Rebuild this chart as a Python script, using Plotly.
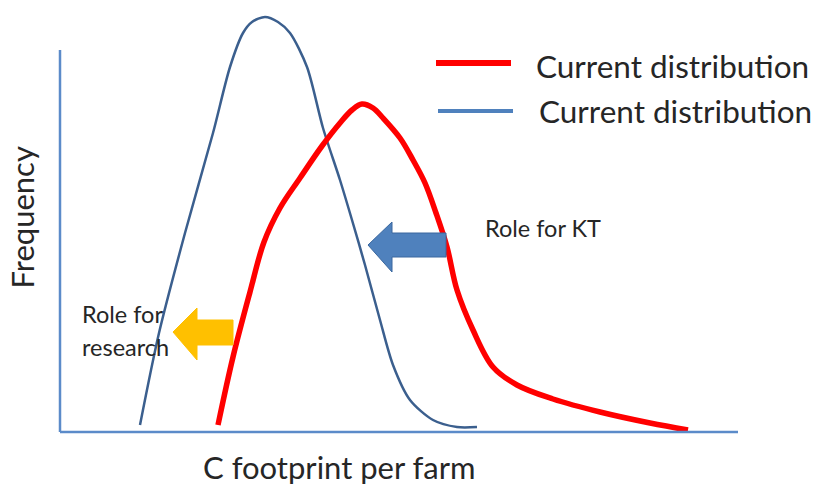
import plotly.graph_objects as go

# Data (x: carbon footprint units, y: frequency units)
blue_x = [80, 99, 125, 153, 170, 183, 192, 205, 218, 230, 247, 263, 280, 292, 305, 320, 333, 350, 373, 397, 417]
blue_y = [7, 99, 199, 299, 365, 399, 410, 415, 410, 399, 365, 304, 252, 212, 167, 112, 67, 32, 12, 5, 5]

red_x = [158, 173, 190, 204, 220, 240, 262, 280, 292, 302, 313, 323, 340, 353, 365, 376, 387, 397, 413, 433, 457, 493, 540, 590, 628]
red_y = [7, 75, 140, 190, 224, 254, 286, 309, 322, 328, 324, 314, 294, 272, 249, 219, 185, 142, 102, 65, 47, 33, 20, 9, 2]

legend_labels = ["Current distribution", "Current distribution"]
x_title = "C footprint per farm"
y_title = "Frequency"
kt_label = "Role for KT"
research_labels = ["Role for", "research"]

FONT = "Lato"
TXT = "#262626"

fig = go.Figure()
fig.add_trace(go.Scatter(x=blue_x, y=blue_y, mode="lines", line=dict(color="#3B5F8E", width=2.5, shape="spline", smoothing=0.8), showlegend=False, hoverinfo="skip"))
fig.add_trace(go.Scatter(x=red_x, y=red_y, mode="lines", line=dict(color="#FF0000", width=5.5, shape="spline", smoothing=1.0), showlegend=False, hoverinfo="skip"))

shapes = [
    # axis lines
    dict(type="line", x0=0, y0=0, x1=0, y1=382, line=dict(color="#5B8BC9", width=2.5)),
    dict(type="line", x0=0, y0=0, x1=678, y1=0, line=dict(color="#5B8BC9", width=2.5)),
    # legend lines
    dict(type="line", x0=376, y0=369, x1=451, y1=369, line=dict(color="#FF0000", width=6)),
    dict(type="line", x0=378, y0=321, x1=453, y1=321, line=dict(color="#4F81BD", width=4)),
    # KT arrow (blue)
    dict(type="path", path="M 308 187 L 332 210 L 332 199 L 386 199 L 386 175 L 332 175 L 332 160 Z",
         fillcolor="#4F81BD", line=dict(color="#3A679E", width=1)),
    # research arrow (yellow)
    dict(type="path", path="M 113 100 L 137 124 L 137 112 L 173 112 L 173 87 L 137 87 L 137 72 Z",
         fillcolor="#FFC000", line=dict(color="#FFC000", width=1)),
]

annotations = [
    dict(x=474, y=366, xref="x", yref="y", text=legend_labels[0], showarrow=False, xanchor="left", yanchor="middle",
         font=dict(family=FONT, size=31.5, color=TXT)),
    dict(x=477, y=321, xref="x", yref="y", text=legend_labels[1], showarrow=False, xanchor="left", yanchor="middle",
         font=dict(family=FONT, size=31.5, color=TXT)),
    dict(x=423, y=204, xref="x", yref="y", text=kt_label, showarrow=False, xanchor="left", yanchor="middle",
         font=dict(family=FONT, size=23.5, color=TXT)),
    dict(x=20, y=118, xref="x", yref="y", text=research_labels[0], showarrow=False, xanchor="left", yanchor="middle",
         font=dict(family=FONT, size=23.5, color=TXT)),
    dict(x=20, y=85, xref="x", yref="y", text=research_labels[1], showarrow=False, xanchor="left", yanchor="middle",
         font=dict(family=FONT, size=23.5, color=TXT)),
    dict(x=0.417, y=-0.069, xref="paper", yref="paper", text=x_title, showarrow=False, xanchor="center", yanchor="middle",
         font=dict(family=FONT, size=31, color=TXT)),
    dict(x=-0.048, y=0.503, xref="paper", yref="paper", text=y_title, showarrow=False, textangle=-90, xanchor="center", yanchor="middle",
         font=dict(family=FONT, size=31, color=TXT)),
]

fig.update_layout(
    width=815, height=488,
    margin=dict(l=55, r=77, t=0, b=51),
    paper_bgcolor="white", plot_bgcolor="white",
    xaxis=dict(range=[-5, 678], visible=False, fixedrange=True),
    yaxis=dict(range=[-5, 432], visible=False, fixedrange=True),
    shapes=shapes, annotations=annotations,
    showlegend=False,
)

fig.write_html("out.html", config={"displayModeBar": False},
               post_script="document.body.style.margin='0px';")
